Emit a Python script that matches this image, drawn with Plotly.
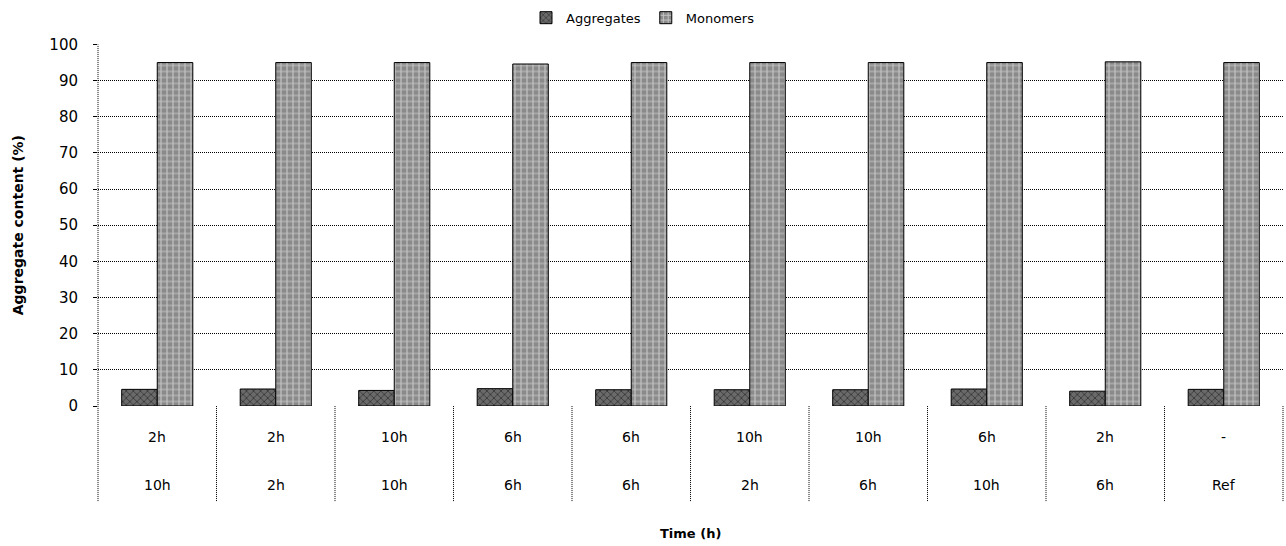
import plotly.graph_objects as go

# Sampling schedule labels (first and second time step) for each run
step_one = ["2h", "2h", "10h", "6h", "6h", "10h", "10h", "6h", "2h", "-"]
step_two = ["10h", "2h", "10h", "6h", "6h", "2h", "6h", "10h", "6h", "Ref"]

# Aggregate / monomer content (%) per run
aggregates = [4.6, 4.7, 4.3, 4.8, 4.5, 4.5, 4.5, 4.7, 4.1, 4.6]
monomers = [95.0, 95.0, 95.0, 94.6, 95.0, 95.0, 95.0, 95.0, 95.2, 95.0]

positions = list(range(len(step_one)))
n = len(positions)

fig = go.Figure()
fig.add_trace(go.Bar(
    x=positions, y=aggregates, name="Aggregates",
    marker=dict(color="#5e5e5e", line=dict(color="black", width=1),
                pattern=dict(shape="x", fgcolor="black", bgcolor="#6a6a6a",
                             size=5, solidity=0.3, fillmode="overlay")),
))
fig.add_trace(go.Bar(
    x=positions, y=monomers, name="Monomers",
    marker=dict(color="#9a9a9a", line=dict(color="black", width=1),
                pattern=dict(shape="+", fgcolor="white", bgcolor="#8a8a8a",
                             size=6, solidity=0.35, fillmode="overlay")),
))

font = "DejaVu Sans"
dotted = "1px,1px"

shapes = []
# dotted dividers between runs, reaching down through the label rows
for i in range(n + 1):
    shapes.append(dict(type="line", xref="paper", yref="paper",
                       x0=i / n, x1=i / n,
                       y0=-0.263, y1=0 if i > 0 else 1,
                       line=dict(color="black", width=1, dash=dotted)))

annotations = []
for i in positions:
    annotations.append(dict(x=i, y=0, xref="x", yref="paper", yshift=-31,
                            yanchor="middle", text=step_one[i], showarrow=False,
                            font=dict(size=14, color="black", family=font)))
    annotations.append(dict(x=i, y=0, xref="x", yref="paper", yshift=-79,
                            yanchor="middle", text=step_two[i], showarrow=False,
                            font=dict(size=14, color="black", family=font)))
annotations.append(dict(x=0.5, y=0, xref="paper", yref="paper", yshift=-127,
                        yanchor="middle", text="<b>Time (h)</b>", showarrow=False,
                        font=dict(size=13, color="black", family=font)))
annotations.append(dict(x=0, y=0.5, xref="paper", yref="paper", xshift=-80,
                        xanchor="center", yanchor="middle",
                        text="<b>Aggregate content (%)</b>", showarrow=False,
                        textangle=-90,
                        font=dict(size=14, color="black", family=font)))

fig.update_layout(
    width=1286, height=546,
    margin=dict(l=98, r=3, t=37, b=140),
    paper_bgcolor="white", plot_bgcolor="white",
    barmode="group", bargap=0.4, bargroupgap=0,
    font=dict(family=font, color="black"),
    legend=dict(orientation="h", x=0.5, xanchor="center", xref="container",
                y=0.995, yanchor="top", yref="container",
                font=dict(size=13, family=font),
                itemwidth=30, tracegroupgap=0),
    shapes=shapes,
    annotations=annotations,
    showlegend=True,
)
fig.update_xaxes(range=[-0.5, n - 0.5], showticklabels=False, showgrid=False,
                 zeroline=False, showline=False, ticks="")
fig.update_yaxes(range=[0, 100], dtick=10, showgrid=True, gridcolor="black",
                 griddash=dotted, gridwidth=1, zeroline=False,
                 ticks="outside", ticklen=4, tickcolor="black",
                 ticklabelstandoff=12,
                 tickfont=dict(size=15, family=font, color="black"),
                 showline=False)

fig.write_html("out.html")
